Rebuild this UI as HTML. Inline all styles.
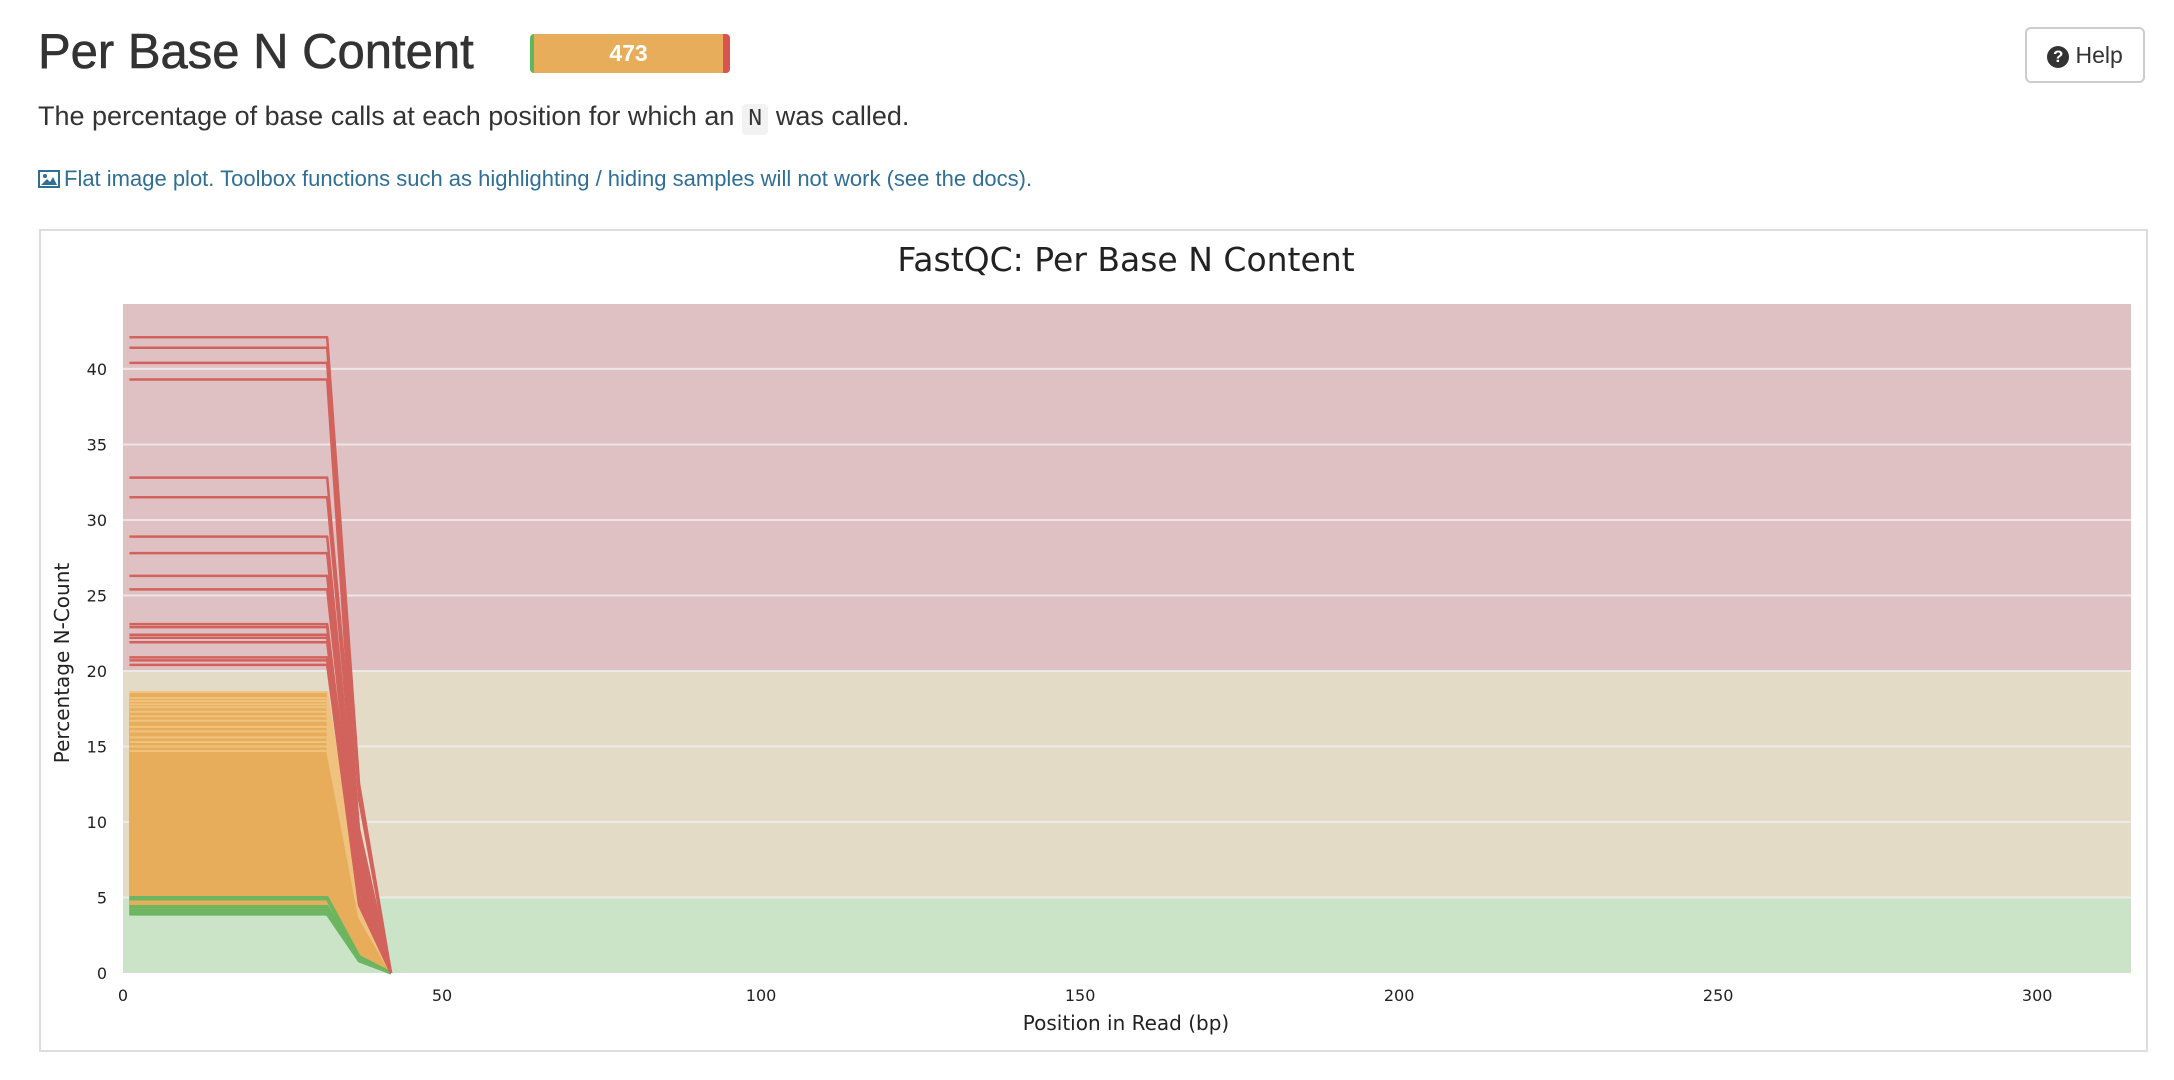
<!DOCTYPE html>
<html><head><meta charset="utf-8">
<style>
body{margin:0;width:2174px;height:1080px;background:#fff;font-family:"Liberation Sans",sans-serif;position:relative;overflow:hidden;color:#333}
.abs{position:absolute}
</style></head><body>
<div class="abs" style="left:38px;top:24px;font-size:49px;font-weight:500;color:#333;-webkit-text-stroke:0.6px #333">Per Base N Content</div>
<div class="abs" style="left:530px;top:34px;width:200px;height:39px;border-radius:4px;overflow:hidden;display:flex;box-shadow:inset 0 -3px 0 rgba(0,0,0,0.15)">
 <div style="width:4px;background:#5cb85c"></div>
 <div style="flex:1;background:#e8ad5a;color:#fff;font-weight:bold;font-size:23px;text-align:center;line-height:39px">473</div>
 <div style="width:7px;background:#d9534f"></div>
</div>
<div class="abs" style="left:2025px;top:27px;width:120px;height:56px;border:2px solid #ccc;border-radius:6px;box-sizing:border-box;font-size:23px;line-height:52px;text-align:center;color:#333"><span style="display:inline-block;width:22px;height:22px;border-radius:50%;background:#333;color:#fff;font-size:17px;line-height:22px;font-weight:bold;vertical-align:1px">?</span> Help</div>
<div class="abs" style="left:38px;top:101px;font-size:27px;color:#333">The percentage of base calls at each position for which an <code style="font-family:'Liberation Mono',monospace;background:#f2f2f2;padding:2px 6px;border-radius:4px;font-size:24px">N</code> was called.</div>
<div class="abs" style="left:38px;top:166px;font-size:22px;color:#2f6f96"><svg width="22" height="18" style="vertical-align:-2px;margin-right:4px"><rect x="0" y="0" width="22" height="18" fill="#2f6f96"/><rect x="2" y="2" width="18" height="14" fill="#fff"/><circle cx="7" cy="6" r="2" fill="#2f6f96"/><polygon points="3,15 9,9 12,12 15,7 19,15" fill="#2f6f96"/></svg>Flat image plot. Toolbox functions such as highlighting / hiding samples will not work (see the docs).</div>
<div class="abs" style="left:39px;top:229px;width:2105px;height:819px;border:2px solid #ddd"></div>
<svg class="abs" id="chart" style="left:0;top:0" width="2174" height="1080"></svg>
<script>
const xPos=[1,32,37,42];
const redStart=[42.1,41.4,40.4,39.3,32.8,31.5,28.9,27.8,26.3,25.4,23.1,22.9,22.4,22.2,21.9,20.9,20.7,20.4];
const redKnee=[12.5,11.5,9.0,8.0,9.5,8.5,7.5,7.0,6.5,6.0,6.0,5.5,5.5,5.0,5.0,4.8,4.6,4.5];
const orangeStart=[18.6,18.2,18.0,17.8,17.6,17.3,17.0,16.7,16.3,16.0,15.6,15.3,15.0,14.7,14.4,14.0,13.6,13.2,12.8,12.4,12.0,11.6,11.2,10.8,10.4,10.0,9.6,9.2,8.8,8.4,8.0,7.6,7.2,6.8,6.4,6.0,5.6,5.3,5.1];
const orangeKnee=[5.0,4.9,4.8,4.7,4.6,4.5,4.4,4.3,4.2,4.1,4.0,3.9,3.8,3.7,3.6,3.5,3.4,3.3,3.2,3.1,3.0,2.9,2.8,2.7,2.6,2.5,2.4,2.3,2.2,2.1,2.0,1.9,1.8,1.7,1.6,1.5,1.4,1.3,1.2];
const greenStart=[5.0,4.9,4.4,4.2,4.0,3.9];
const greenKnee=[1.1,1.0,1.0,0.9,0.9,0.8];
const yTicks=[0,5,10,15,20,25,30,35,40];
const xTicks=[0,50,100,150,200,250,300];
const bands=[[0,5,'#cbe4c8'],[5,20,'#e3dbc6'],[20,44.3,'#e0c1c3']];
const X0=123,X1=2131,Y0=973,Y1=304,XMAX=314.7,YMAX=44.3;
const sx=v=>X0+v*(X1-X0)/XMAX, sy=v=>Y0-v*(Y0-Y1)/YMAX;
const svg=document.getElementById('chart');const NS='http://www.w3.org/2000/svg';
function mk(t,a,txt){const e=document.createElementNS(NS,t);for(const k in a)e.setAttribute(k,a[k]);if(txt!==undefined)e.textContent=txt;svg.appendChild(e);return e;}
bands.forEach(b=>{const r=mk('rect',{x:X0,y:sy(b[1]),width:X1-X0,height:sy(b[0])-sy(b[1]),fill:b[2]});

});
yTicks.forEach(t=>{if(t>0){const g=mk('line',{x1:X0,x2:X1,y1:sy(t),y2:sy(t),stroke:'#f0f0f0','stroke-width':2,opacity:0.8});

}
const l=mk('text',{x:X0-16,y:sy(t)+6,'text-anchor':'end','font-size':16,fill:'#222','font-family':'DejaVu Sans, sans-serif'},t);

});
xTicks.forEach(t=>{const l=mk('text',{x:sx(t),y:1001,'text-anchor':'middle','font-size':16,fill:'#222','font-family':'DejaVu Sans, sans-serif'},t);

});
const lowStart=greenStart[greenStart.length-1], lowKnee=greenKnee[greenKnee.length-1];
// orange area fill: each warn series filled down to the lowest pass line
orangeStart.forEach((s,i)=>{const top=[s,s,orangeKnee[i],0];const bot=[lowStart,lowStart,lowKnee,0];
const pts=top.map((v,j)=>sx(xPos[j])+','+sy(v)).concat(bot.map((v,j)=>sx(xPos[j])+','+sy(v)).reverse());
const p=mk('polygon',{points:pts.join(' '),fill:'#e8ad5a'});

});
function series(starts,knees,color,name,w){starts.forEach((s,i)=>{const vals=[s,s,knees[i],0];
const p=mk('polyline',{points:vals.map((v,j)=>sx(xPos[j])+','+sy(v)).join(' '),fill:'none',stroke:color,'stroke-width':w,'stroke-linejoin':'round'});

});}
series(orangeStart.slice(0,14),orangeKnee.slice(0,14),'#efc27f','warn-sample-line',2);
series(greenStart,greenKnee,'#6cb561','pass-sample-line',3);
series(redStart,redKnee,'#d2625c','fail-sample-line',2.5);
const t=mk('text',{x:1126,y:271,'text-anchor':'middle','font-size':33,fill:'#222','font-family':'DejaVu Sans, sans-serif'},'FastQC: Per Base N Content');


const xl=mk('text',{x:1126,y:1030,'text-anchor':'middle','font-size':20,fill:'#222','font-family':'DejaVu Sans, sans-serif'},'Position in Read (bp)');


const yl=mk('text',{x:0,y:0,'text-anchor':'middle','font-size':20,fill:'#222','font-family':'DejaVu Sans, sans-serif',transform:'translate(69,663) rotate(-90)'},'Percentage N-Count');


</script>
</body></html>
